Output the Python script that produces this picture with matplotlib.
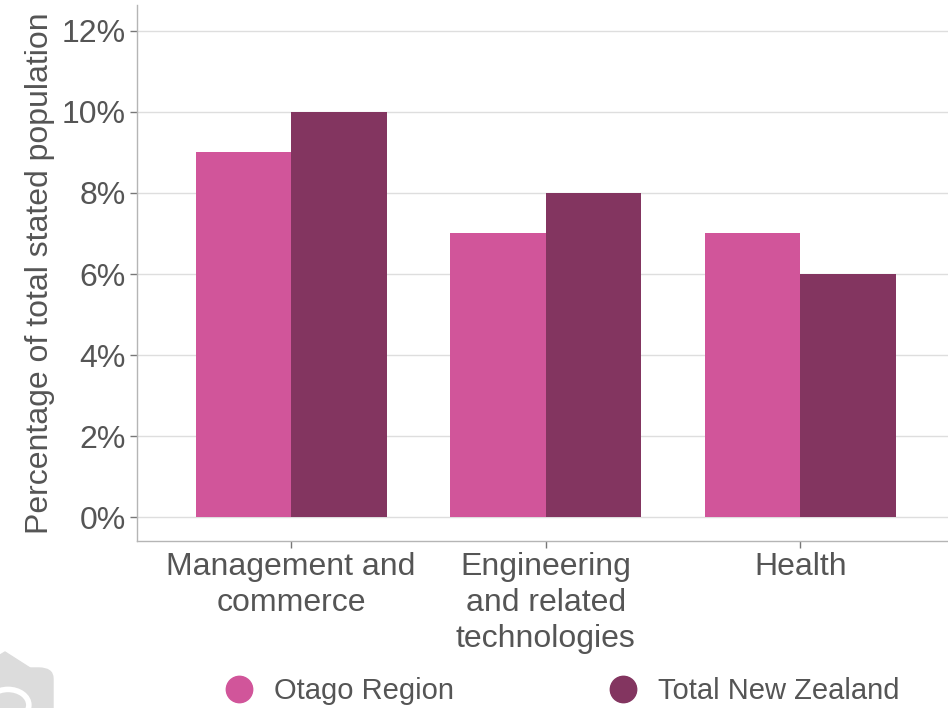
import matplotlib

matplotlib.use("Agg")
import matplotlib.pyplot as plt
import numpy as np
from matplotlib.lines import Line2D
from matplotlib.patches import Circle, FancyBboxPatch, Polygon
from matplotlib.ticker import FuncFormatter

categories = ["Management and\ncommerce", "Engineering\nand related\ntechnologies", "Health"]
otago = [9, 7, 7]
total_nz = [10, 8, 6]
series_names = ["Otago Region", "Total New Zealand"]

PINK = "#D1559A"
MAROON = "#833560"
TEXT = "#555555"

plt.rcParams["font.family"] = ["Liberation Sans", "DejaVu Sans"]

fig = plt.figure(figsize=(9.48, 7.08), dpi=100)
ax = fig.add_axes([137 / 948, 167 / 708, 1 - 137 / 948, 536 / 708])

x = np.arange(len(categories))
width = 0.375
ax.bar(x - width / 2, otago, width, color=PINK, zorder=2)
ax.bar(x + width / 2, total_nz, width, color=MAROON, zorder=2)

ax.set_xlim(-0.605, 2.58)
ax.set_ylim(-0.59, 12.64)
ax.set_yticks(range(0, 13, 2))
ax.yaxis.set_major_formatter(FuncFormatter(lambda v, _: f"{v:.0f}%"))
ax.set_xticks(x)
ax.set_xticklabels(categories, linespacing=1.25)
ax.grid(axis="y", color="#dedede", linewidth=1.0, zorder=0)
ax.set_axisbelow(True)

for side in ["top", "right"]:
    ax.spines[side].set_visible(False)
for side in ["left", "bottom"]:
    ax.spines[side].set_color("#b5b5b5")
    ax.spines[side].set_linewidth(1.0)

ax.tick_params(axis="both", colors="#777777", length=5, width=1, labelsize=23, labelcolor=TEXT)
ax.tick_params(axis="x", pad=3)
ax.tick_params(axis="y", pad=3)
ax.set_ylabel("Percentage of total stated population", fontsize=23, color=TEXT, labelpad=5)

# legend along the bottom
handles = [
    Line2D([], [], marker="o", linestyle="", markersize=19, color=PINK),
    Line2D([], [], marker="o", linestyle="", markersize=19, color=MAROON),
]
fig.legend(handles, series_names, loc="center", bbox_to_anchor=(562 / 948, 17 / 708),
           ncol=2, frameon=False, fontsize=21, labelcolor=TEXT, columnspacing=5.3,
           handletextpad=0.7, handlelength=1.0)

# faded logo in the corner
logo = "#dcdcdc"
fig.patches.append(FancyBboxPatch((-20 / 948, -20 / 708), 73 / 948, 60 / 708,
                                  boxstyle="round,pad=0,rounding_size=0.015",
                                  transform=fig.transFigure, color=logo, zorder=0))
fig.patches.append(Polygon([(-5 / 948, 50 / 708), (5 / 948, 56 / 708), (30 / 948, 40 / 708), (-5 / 948, 30 / 708)],
                           closed=True, transform=fig.transFigure, color=logo, zorder=0))
fig.patches.append(Circle((8 / 948, 3 / 708), 0.022, transform=fig.transFigure,
                          facecolor=logo, edgecolor="white", linewidth=4, zorder=1))

fig.savefig("out.png", dpi=100, facecolor="white")
